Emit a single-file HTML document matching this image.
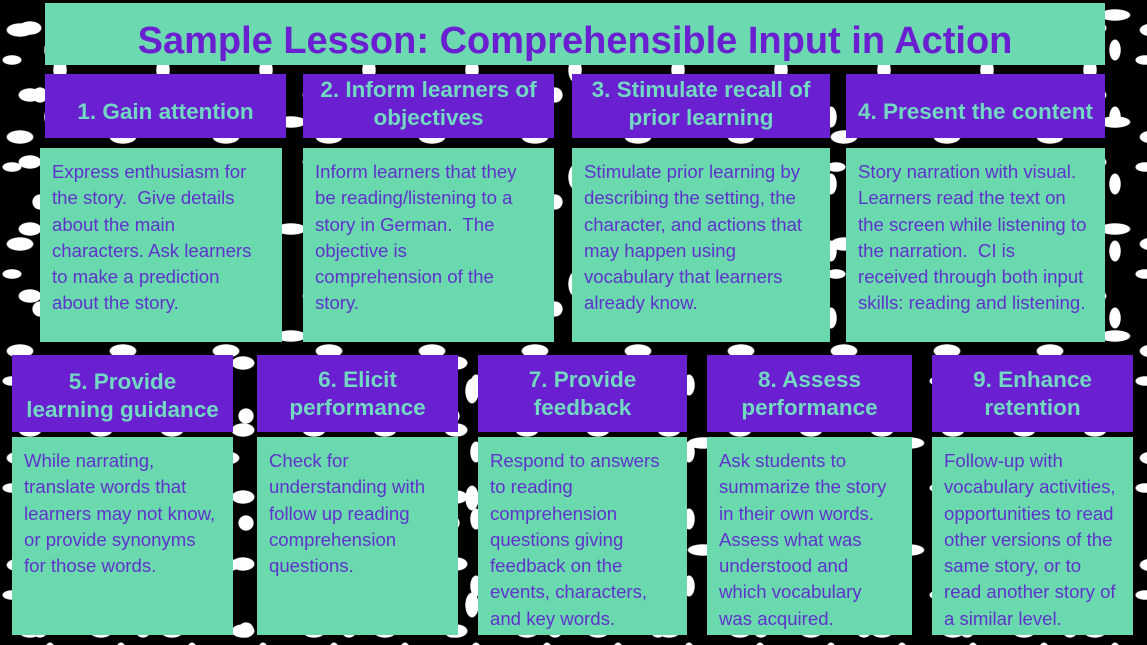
<!DOCTYPE html>
<html><head><meta charset="utf-8"><style>
*{margin:0;padding:0;box-sizing:border-box}
body{width:1147px;height:645px;position:relative;overflow:hidden;font-family:"Liberation Sans",Arial,sans-serif;
background-color:#000;
background-image:
radial-gradient(ellipse 14px 7px at 20px 30px,#fff 90%,transparent 100%),
radial-gradient(ellipse 7px 13px at 60px 70px,#fff 90%,transparent 100%),
radial-gradient(ellipse 16px 6px at 85px 15px,#fff 90%,transparent 100%),
radial-gradient(ellipse 8px 8px at 40px 95px,#fff 90%,transparent 100%),
radial-gradient(ellipse 10px 5px at 12px 60px,#fff 90%,transparent 100%),
radial-gradient(ellipse 12px 7px at 30px 28px,#fff 90%,transparent 100%),
radial-gradient(ellipse 6px 11px at 50px 50px,#fff 90%,transparent 100%);
background-size:103px 107px,103px 107px,103px 107px,103px 107px,103px 107px,71px 67px,71px 67px;}
.b{position:absolute}
.t{left:45px;top:3px;width:1060px;height:62px;background:#6cd9b0;color:#6a1fd0;font-weight:bold;font-size:38px;text-align:center;line-height:76px}
.h{background:#6a1fd0;color:#72d8c2;font-weight:bold;font-size:22.5px;display:flex;align-items:center;justify-content:center;text-align:center;line-height:28px}
.c{background:#6ad9ae;color:#5f32cc;font-size:18.6px;line-height:26.3px;padding:11px 0 0 12px;white-space:nowrap;overflow:hidden}
</style></head><body>
<div class="b t">Sample Lesson: Comprehensible Input in Action</div>

<div class="b h" style="left:45px;top:74px;width:241px;height:64px;padding-top:12px">1. Gain attention</div>
<div class="b h" style="left:303px;top:74px;width:251px;height:64px;padding-bottom:4px">2. Inform learners of<br>objectives</div>
<div class="b h" style="left:572px;top:74px;width:258px;height:64px;padding-bottom:4px">3. Stimulate recall of<br>prior learning</div>
<div class="b h" style="left:846px;top:74px;width:259px;height:64px;padding-top:12px">4. Present the content</div>

<div class="b c" style="left:40px;top:148px;width:242px;height:194px">Express enthusiasm for<br>the story.&nbsp; Give details<br>about the main<br>characters. Ask learners<br>to make a prediction<br>about the story.</div>
<div class="b c" style="left:303px;top:148px;width:251px;height:194px">Inform learners that they<br>be reading/listening to a<br>story in German.&nbsp; The<br>objective is<br>comprehension of the<br>story.</div>
<div class="b c" style="left:572px;top:148px;width:258px;height:194px">Stimulate prior learning by<br>describing the setting, the<br>character, and actions that<br>may happen using<br>vocabulary that learners<br>already know.</div>
<div class="b c" style="left:846px;top:148px;width:259px;height:194px">Story narration with visual.<br>Learners read the text on<br>the screen while listening to<br>the narration.&nbsp; CI is<br>received through both input<br>skills: reading and listening.</div>

<div class="b h" style="left:12px;top:355px;width:221px;height:77px;padding-top:4px">5. Provide<br>learning guidance</div>
<div class="b h" style="left:257px;top:355px;width:201px;height:77px">6. Elicit<br>performance</div>
<div class="b h" style="left:478px;top:355px;width:209px;height:77px">7. Provide<br>feedback</div>
<div class="b h" style="left:707px;top:355px;width:205px;height:77px">8. Assess<br>performance</div>
<div class="b h" style="left:932px;top:355px;width:201px;height:77px">9. Enhance<br>retention</div>

<div class="b c" style="left:12px;top:437px;width:221px;height:198px">While narrating,<br>translate words that<br>learners may not know,<br>or provide synonyms<br>for those words.</div>
<div class="b c" style="left:257px;top:437px;width:201px;height:198px">Check for<br>understanding with<br>follow up reading<br>comprehension<br>questions.</div>
<div class="b c" style="left:478px;top:437px;width:209px;height:198px">Respond to answers<br>to reading<br>comprehension<br>questions giving<br>feedback on the<br>events, characters,<br>and key words.</div>
<div class="b c" style="left:707px;top:437px;width:205px;height:198px">Ask students to<br>summarize the story<br>in their own words.<br>Assess what was<br>understood and<br>which vocabulary<br>was acquired.</div>
<div class="b c" style="left:932px;top:437px;width:201px;height:198px">Follow-up with<br>vocabulary activities,<br>opportunities to read<br>other versions of the<br>same story, or to<br>read another story of<br>a similar level.</div>
</body></html>
